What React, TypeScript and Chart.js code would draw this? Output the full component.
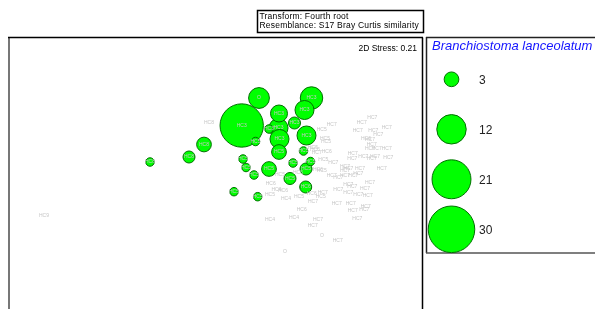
import React, { useEffect, useRef } from "react";
import { Chart, registerables } from "chart.js";

Chart.register(...registerables);

// Sample labels (group), MDS coordinates and abundance of Branchiostoma lanceolatum
const sampleLabels = [
  "HC3", "O", "HC3", "HC3", "HC3", "HC3", "HC3", "HC3", "HC3", "HC3",
  "HC5", "HC8", "HC8", "HC8", "HC5", "HC5", "HC5", "HC5", "HC5", "HC5",
  "HC5", "HC5", "HC5", "HC5", "HC6", "HC5", "HC5",
  "HC8", "HC9", "O", "O", "HC7", "HC7", "HC7", "HC4", "HC4", "HC6",
  "HC7", "HC7", "HC4", "HC5", "HC5", "HC6", "HC6", "HC6", "HC6", "HC5",
  "HC7", "HC7", "HC7", "HC7", "HC7", "HC7", "HC7", "HC7", "HC7", "HC7",
  "HC7", "HC7", "HC7", "HC7", "HC7", "HC7", "HC7", "HC7", "HC7", "HC7",
  "HC7", "HC7", "HC7", "HC5", "HC7", "HC5", "HC7", "HC7", "HC7", "HC7",
  "HC7", "HC7", "HC6", "HC7", "HC5", "HC6", "HC7", "HC7", "HC7", "HC7",
  "HC7", "HC7", "HC5", "HC5", "HC5", "HC7", "HC7", "HC7", "HC7", "HC7",
  "HC7", "HC7", "HC5", "HC5", "HC6", "HC6",
];

const sampleX = [
  0.267, 0.44, 0.965, 0.895, 0.64, 0.795, 0.635, 0.54, 0.915, 0.645,
  0.405, -0.11, -0.26, -0.65, 0.64, 0.885, 0.28, 0.31, 0.54, 0.78,
  0.955, 0.91, 0.39, 0.75, 0.907, 0.19, 0.427,
  -0.06, -1.71, 0.7, 1.07, 1.227, 0.977, 1.03, 0.79, 0.55, 0.867,
  0.98, 1.217, 0.71, 0.55, 0.84, 0.557, 0.615, 0.68, 0.967, 1.057,
  1.077, 1.233, 1.333, 1.433, 1.527, 1.333, 1.373, 1.5, 1.55, 1.357,
  1.507, 1.377, 1.493, 1.423, 1.167, 1.3, 1.383, 1.433, 1.3, 1.333,
  1.3, 1.45, 1.667, 1.067, 1.183, 1.083, 1.373, 1.377, 1.483, 1.6,
  1.567, 1.733, 1.117, 1.017, 0.98, 1.51, 1.55, 1.567, 1.55, 1.617,
  1.717, 1.167, 1.1, 1.11, 1.067, 1.467, 1.573, 1.717, 1.427, 1.583,
  1.633, 1.233, 0.83, 0.65, 1.03, 1.0,
];

const sampleY = [
  0.325, 0.6, 0.6, 0.48, 0.445, 0.35, 0.3, 0.29, 0.225, 0.19,
  0.165, 0.135, 0.01, -0.04, 0.06, 0.07, -0.01, -0.095, -0.11, -0.05,
  -0.035, -0.11, -0.17, -0.205, -0.29, -0.337, -0.387,
  0.35, -0.58, -0.94, -0.78, -0.83, -0.68, -0.62, -0.6, -0.62, -0.52,
  -0.437, -0.46, -0.41, -0.37, -0.39, -0.26, -0.32, -0.327, -0.36, -0.387,
  -0.343, -0.32, -0.347, -0.37, -0.377, -0.27, -0.287, -0.31, -0.247, -0.46,
  -0.487, -0.53, -0.52, -0.61, -0.177, -0.177, -0.177, -0.16, -0.13, -0.11,
  -0.087, -0.103, -0.103, -0.13, -0.043, -0.013, -0.01, 0.047, 0.013, 0.013,
  -0.01, 0.003, 0.063, 0.05, 0.1, 0.197, 0.18, 0.137, 0.097, 0.097,
  0.097, 0.33, 0.197, 0.163, 0.28, 0.353, 0.407, 0.303, 0.27, 0.27,
  0.23, -0.2, -0.15, -0.17, -0.12, 0.08,
];

const abundance = [
  26, 6, 7, 5, 4, 2, 5, 1, 5, 5,
  1, 3, 2, 1, 3, 1, 1, 1, 3, 1,
  1, 2, 1, 2, 2, 1, 1,
];

const legendValues = [3, 12, 21, 30];
const speciesName = "Branchiostoma lanceolatum";
const stressLabel = "2D Stress: 0.21";
const infoLines = ["Transform: Fourth root", "Resemblance: S17 Bray Curtis similarity"];

const RADIUS_K = 4.25;
const bubbleRadius = (v: number) => RADIUS_K * Math.sqrt(v);
const FILL = "#00ff00";
const EDGE = "#006f00";
const FONT = "Arial, 'Liberation Sans', sans-serif";

export default function App() {
  const ref = useRef<HTMLCanvasElement>(null);

  useEffect(() => {
    const canvas = ref.current!;
    const idx = sampleLabels.map((_, i) => i).filter((i) => (abundance[i] || 0) > 0);
    idx.sort((a, b) => abundance[b] - abundance[a]);
    const bubbleData = idx.map((i) => ({
      x: sampleX[i],
      y: sampleY[i],
      r: bubbleRadius(abundance[i]),
    }));

    const labelPlugin = {
      id: "sampleLabels",
      afterDatasetsDraw(chart: any) {
        const { ctx, chartArea, scales } = chart;
        ctx.save();
        ctx.beginPath();
        ctx.rect(chartArea.left, chartArea.top, chartArea.right - chartArea.left, chartArea.bottom - chartArea.top);
        ctx.clip();
        ctx.font = `5px ${FONT}`;
        ctx.fillStyle = "#c6c6c6";
        ctx.textAlign = "center";
        ctx.textBaseline = "middle";
        sampleLabels.forEach((lab, i) => {
          ctx.fillText(lab, scales.x.getPixelForValue(sampleX[i]), scales.y.getPixelForValue(sampleY[i]));
        });
        ctx.restore();
      },
    };

    const decorPlugin = {
      id: "decor",
      afterDraw(chart: any) {
        const ctx = chart.ctx;
        const ca = chart.chartArea;
        ctx.save();
        // plot frame
        ctx.strokeStyle = "#777";
        ctx.lineWidth = 2;
        ctx.beginPath();
        ctx.moveTo(ca.left, ca.top - 1);
        ctx.lineTo(ca.left, 309);
        ctx.stroke();
        ctx.strokeStyle = "#000";
        ctx.lineWidth = 1.5;
        ctx.beginPath();
        ctx.moveTo(ca.left - 1, ca.top - 0.5);
        ctx.lineTo(ca.right + 1, ca.top - 0.5);
        ctx.moveTo(ca.right + 0.5, ca.top - 0.5);
        ctx.lineTo(ca.right + 0.5, 309);
        ctx.stroke();

        // stress
        ctx.font = `8.5px ${FONT}`;
        ctx.fillStyle = "#000";
        ctx.textAlign = "right";
        ctx.textBaseline = "alphabetic";
        ctx.fillText(stressLabel, 417, 50.5);

        // info box
        ctx.lineWidth = 1.5;
        ctx.strokeStyle = "#000";
        ctx.strokeRect(257.5, 10.5, 166, 22);
        ctx.textAlign = "left";
        (ctx as any).letterSpacing = "0.2px";
        ctx.fillText(infoLines[0], 259.5, 19);
        ctx.fillText(infoLines[1], 259.5, 27.5);
        (ctx as any).letterSpacing = "0px";

        // legend box
        ctx.strokeStyle = "#222";
        ctx.lineWidth = 1.5;
        ctx.beginPath();
        ctx.moveTo(426.5, 37);
        ctx.lineTo(426.5, 253);
        ctx.moveTo(426, 37.5);
        ctx.lineTo(595, 37.5);
        ctx.stroke();
        ctx.strokeStyle = "#555";
        ctx.beginPath();
        ctx.moveTo(426, 253);
        ctx.lineTo(595, 253);
        ctx.stroke();

        ctx.font = `italic 13px ${FONT}`;
        ctx.fillStyle = "#1515ff";
        ctx.fillText(speciesName, 432, 50);

        legendValues.forEach((v, i) => {
          const cy = 79.3 + i * 50;
          ctx.beginPath();
          ctx.arc(451.5, cy, bubbleRadius(v), 0, Math.PI * 2);
          ctx.fillStyle = FILL;
          ctx.fill();
          ctx.strokeStyle = EDGE;
          ctx.lineWidth = 1;
          ctx.stroke();
          ctx.font = `12px ${FONT}`;
          ctx.fillStyle = "#222";
          ctx.textBaseline = "middle";
          ctx.fillText(String(v), 479, cy + 1);
          ctx.textBaseline = "alphabetic";
        });
        ctx.restore();
      },
    };

    const chart = new Chart(canvas, {
      type: "bubble",
      data: {
        datasets: [
          {
            data: bubbleData,
            backgroundColor: FILL,
            borderColor: EDGE,
            borderWidth: 1,
          },
        ],
      },
      options: {
        animation: false,
        responsive: false,
        events: [],
        layout: { autoPadding: false, padding: { left: 9, top: 38, right: 173, bottom: 0 } },
        plugins: { legend: { display: false }, tooltip: { enabled: false } },
        scales: {
          x: { type: "linear", min: -2.06, max: 2.07, display: false },
          y: { type: "linear", min: -1.51, max: 1.2, display: false },
        },
      },
      plugins: [labelPlugin, decorPlugin],
    });
    return () => chart.destroy();
  }, []);

  return (
    <div style={{ position: "fixed", left: 0, top: 0, width: 595, height: 309, background: "#fff" }}>
      <canvas ref={ref} width={595} height={309} style={{ width: 595, height: 309, display: "block" }} />
    </div>
  );
}
